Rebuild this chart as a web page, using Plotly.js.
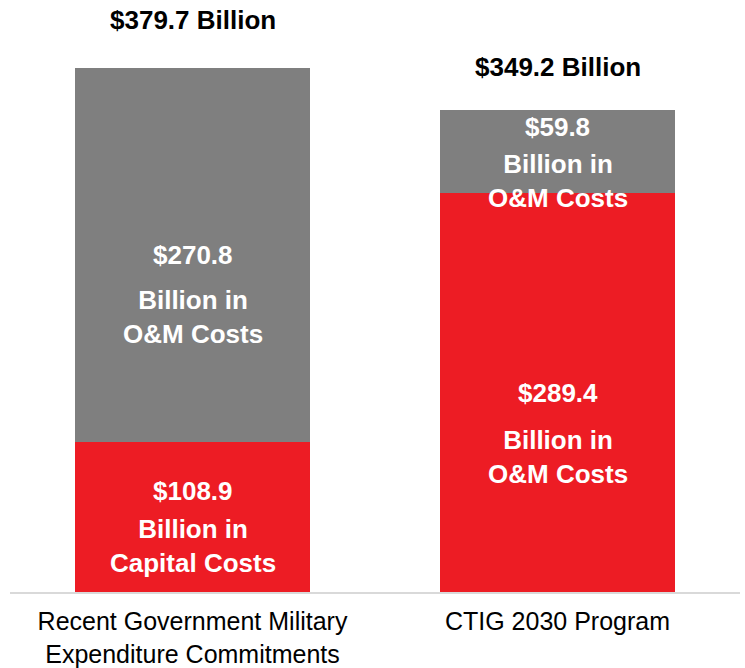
<!DOCTYPE html>
<html>
<head>
<meta charset="utf-8">
<script src="https://cdn.plot.ly/plotly-3.0.1.min.js"></script>
<style>html,body{margin:0;padding:0;background:#fff;}#chart{width:745px;height:668px;}</style>
</head>
<body>
<div id="chart"></div>
<script>
// Data
const categories = ["Recent Government Military<br>Expenditure Commitments", "CTIG 2030 Program"];
const capitalValues = [108.9, 289.4];   // red (bottom)
const omValues = [270.8, 59.8];         // gray (top)
const redDescriptions = ["Billion in<br>Capital Costs", "Billion in<br>O&amp;M Costs"];
const grayDescriptions = ["Billion in<br>O&amp;M Costs", "Billion in<br>O&amp;M Costs"];

// Style (pixel offsets for label placement)
const RED = "#ED1C24", GRAY = "#7F7F7F";
const redValShift = [26, -1], redDescShift = [-29, -65];
const grayValShift = [0, 24], grayDescShift = [-62, -30];
const totalShift = [48, 43];

const totals = capitalValues.map((v, i) => v + omValues[i]);

const traces = [
  {type: "bar", x: categories, y: capitalValues, marker: {color: RED}, width: 0.646, hoverinfo: "skip"},
  {type: "bar", x: categories, y: omValues, marker: {color: GRAY}, width: 0.646, hoverinfo: "skip"}
];

const FAM = "Liberation Sans, Arial, sans-serif";
const labelFont = {family: FAM, size: 26, color: "#FFFFFF"};
const annotations = [];
categories.forEach((c, i) => {
  const redMid = capitalValues[i] / 2;
  const grayMid = capitalValues[i] + omValues[i] / 2;
  annotations.push({x: c, y: redMid, text: "<b>$" + capitalValues[i].toFixed(1) + "</b>", showarrow: false, yshift: redValShift[i], yanchor: "middle", font: labelFont});
  annotations.push({x: c, y: redMid, text: "<b>" + redDescriptions[i] + "</b>", showarrow: false, yshift: redDescShift[i], yanchor: "middle", font: labelFont});
  annotations.push({x: c, y: grayMid, text: "<b>$" + omValues[i].toFixed(1) + "</b>", showarrow: false, yshift: grayValShift[i], yanchor: "middle", font: labelFont});
  annotations.push({x: c, y: grayMid, text: "<b>" + grayDescriptions[i] + "</b>", showarrow: false, yshift: grayDescShift[i], yanchor: "middle", font: labelFont});
  annotations.push({x: c, y: totals[i], text: "<b>$" + totals[i].toFixed(1) + " Billion</b>", showarrow: false, yshift: totalShift[i], yanchor: "middle",
    font: {family: FAM, size: 26, color: "#000000"}});
});

const layout = {
  width: 745, height: 668,
  margin: {l: 10, r: 5, t: 0, b: 76},
  barmode: "stack",
  showlegend: false,
  paper_bgcolor: "#FFFFFF", plot_bgcolor: "#FFFFFF",
  xaxis: {
    type: "category", showline: true, linecolor: "#D9D9D9", linewidth: 2,
    ticks: "", showgrid: false, zeroline: false,
    tickfont: {family: FAM, size: 25, color: "#000000"},
    ticklabelstandoff: 6
  },
  yaxis: {range: [0, 429], visible: false, showgrid: false, zeroline: false},
  annotations: annotations
};

Plotly.newPlot("chart", traces, layout, {staticPlot: true, displayModeBar: false});
</script>
</body>
</html>
